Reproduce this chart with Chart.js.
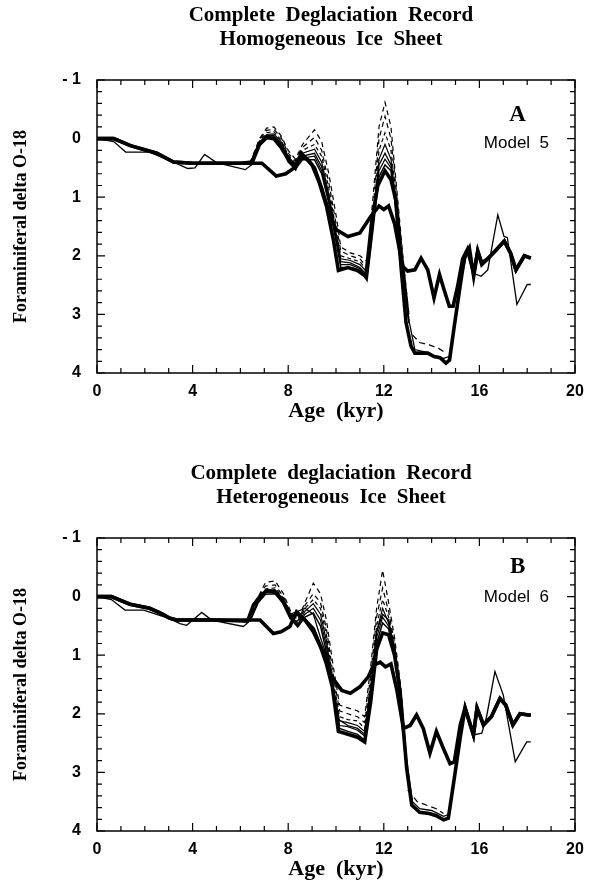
<!DOCTYPE html>
<html>
<head>
<meta charset="utf-8">
<script src="https://cdn.jsdelivr.net/npm/chart.js@4.4.1/dist/chart.umd.min.js"></script>
<style>
  html,body{margin:0;padding:0;background:#fff;}
  #wrap{position:relative;width:602px;height:888px;}
  canvas{position:absolute;left:0;}
  #c1{top:0;} #c2{top:444px;}
</style>
</head>
<body>
<div id="wrap">
  <canvas id="c1" width="602" height="444"></canvas>
  <canvas id="c2" width="602" height="444"></canvas>
</div>
<script>
// axes
const xTicks=[0,4,8,12,16,20];
const yTickVals=[-1,0,1,2,3,4];
const yTickLabels=['- 1','0','1','2','3','4'];

// ---- panel A : homogeneous ice sheet (model 5) ----
const thickA_ageA=[0,0.7,1.4,2.5,3.2,4.0,5.0,6.0,6.5,6.8,7.1,7.4,7.7,8.0,8.3,8.55,9.0,9.3,9.6,9.9,10.1,10.5,10.9,11.25,11.5,11.75,12.05,12.3,12.5,12.72,12.93,13.14,13.3,13.84,14.1,14.35,14.6,14.75,14.95,15.2,15.37,15.58,15.76,15.93,16.1,16.35,16.7,17.04,17.3,17.53,17.88,18.15];
const thickA_valA=[0,0,0.12,0.25,0.4,0.42,0.42,0.42,0.4,0.1,-0.02,0.0,0.15,0.35,0.5,0.25,0.45,0.75,1.15,1.75,2.25,2.2,2.25,2.35,1.4,0.8,0.55,0.7,1.05,2.18,3.14,3.54,3.66,3.66,3.72,3.74,3.83,3.78,3.2,2.5,2.04,1.87,2.35,1.92,2.15,2.05,1.9,1.75,1.95,2.24,2.0,2.04];

const thickB_ageA=[0,0.7,1.4,2.5,3.2,4.0,5.0,6.0,6.9,7.5,7.9,8.25,8.5,8.8,9.1,9.4,9.7,10.0,10.5,11.0,11.45,11.8,12.0,12.2,12.45,12.79,13.0,13.3,13.56,13.84,14.1,14.33,14.5,14.74,14.9,15.09,15.3,15.5,15.76,15.93,16.1,16.35,16.7,17.04,17.3,17.53,17.88,18.15];
const thickB_valA=[0,0,0.12,0.25,0.4,0.42,0.42,0.42,0.42,0.64,0.6,0.5,0.3,0.35,0.5,0.85,1.25,1.55,1.67,1.61,1.33,1.15,1.21,1.15,1.45,2.18,2.26,2.24,2.04,2.24,2.72,2.32,2.55,2.86,2.86,2.52,2.05,1.89,2.3,1.92,2.12,2.05,1.9,1.75,1.95,2.24,2.0,2.04];

const thin_ageA=[0,0.7,1.2,2.2,3.2,3.8,4.1,4.5,5.0,6.2,6.5,6.8,7.1,7.4,7.7,8.0,8.3,8.6,9.1,9.4,9.7,10.0,10.2,10.6,11.0,11.3,11.55,11.8,12.05,12.3,12.55,12.8,13.05,13.3,13.8,14.1,14.5,14.75,15.0,15.25,15.5,15.76,16.07,16.35,16.77,17.03,17.17,17.57,18.0,18.15];
const thin_valA=[0,0.05,0.23,0.23,0.4,0.51,0.5,0.27,0.41,0.53,0.44,0.08,-0.05,-0.05,0.08,0.33,0.48,0.3,0.25,0.48,1.0,1.65,2.1,2.12,2.2,2.33,1.45,0.45,0.25,0.45,1.25,2.2,3.1,3.6,3.65,3.7,3.75,3.72,3.1,2.4,1.9,2.3,2.35,2.24,1.3,1.67,1.69,2.83,2.49,2.49];

const famAgeA=[6.4,6.8,7.1,7.4,7.7,8.0,8.3,8.6,9.1,9.4,9.7,10.0,10.2,10.6,11.0,11.3,11.55,11.8,12.05,12.3,12.55,12.8,13.05];
const famA0=[0.42,0.0,-0.18,-0.2,-0.05,0.2,0.35,0.1,-0.15,0.05,0.6,1.3,1.85,1.95,2.0,2.1,1.0,-0.2,-0.62,-0.2,0.9,2.0,3.0];
const famA1=[0.42,0.02,-0.14,-0.16,-0.02,0.25,0.38,0.15,-0.02,0.2,0.75,1.45,1.92,2.0,2.05,2.2,1.2,0.0,-0.38,0.0,1.0,2.05,3.0];
const famA2=[0.42,0.04,-0.1,-0.12,0.02,0.28,0.42,0.2,0.1,0.3,0.85,1.55,2.0,2.05,2.1,2.25,1.3,0.2,-0.1,0.2,1.1,2.1,3.05];
const famA3=[0.42,0.06,-0.07,-0.08,0.05,0.3,0.45,0.25,0.18,0.4,0.95,1.6,2.05,2.08,2.15,2.28,1.4,0.35,0.1,0.35,1.2,2.15,3.1];
const famA4=[0.42,0.1,-0.03,-0.03,0.1,0.36,0.5,0.33,0.3,0.55,1.05,1.7,2.15,2.15,2.22,2.36,1.5,0.55,0.35,0.5,1.3,2.25,3.15];
const famA5=[0.42,0.12,0.0,0.0,0.12,0.4,0.52,0.36,0.36,0.6,1.1,1.75,2.2,2.2,2.25,2.42,1.55,0.65,0.45,0.55,1.35,2.3,3.15];
const troughAgeA=[13.2,13.5,13.9,14.3,14.6];
const troughValA=[3.35,3.48,3.52,3.58,3.66];

// ---- panel B : heterogeneous ice sheet (model 6) ----
const thickA_ageB=[0,0.6,1.38,2.2,2.7,3.05,3.33,5.0,6.3,6.54,6.82,7.1,7.45,7.8,8.1,8.4,8.7,9.05,9.35,9.6,9.85,10.1,10.5,10.9,11.2,11.45,11.7,11.95,12.2,12.45,12.68,12.96,13.17,13.5,13.9,14.2,14.5,14.7,14.95,15.2,15.4,15.75,15.9,16.17,16.5,16.86,17.1,17.4,17.7,18.05,18.15];
const thickA_valB=[0,0,0.13,0.2,0.29,0.37,0.4,0.4,0.42,0.15,0.0,-0.1,-0.08,0.1,0.35,0.3,0.4,0.6,0.85,1.15,1.55,2.3,2.35,2.4,2.48,1.8,0.9,0.62,0.65,1.0,1.62,2.94,3.56,3.68,3.7,3.74,3.81,3.78,3.1,2.4,1.9,2.36,1.9,2.19,2.05,1.74,1.85,2.19,2.0,2.02,2.02];

const thickB_ageB=[0,0.6,1.38,2.2,2.7,3.05,3.33,5.0,6.82,7.38,7.7,8.07,8.35,8.7,9.05,9.35,9.6,9.82,10.24,10.6,11.0,11.35,11.57,11.85,12.07,12.3,12.55,12.82,13.1,13.37,13.65,13.93,14.2,14.45,14.77,14.95,15.2,15.4,15.75,15.9,16.17,16.5,16.86,17.1,17.4,17.7,18.05,18.15];
const thickB_valB=[0,0,0.13,0.2,0.29,0.37,0.4,0.4,0.4,0.63,0.6,0.51,0.26,0.4,0.55,0.85,1.05,1.37,1.6,1.65,1.54,1.37,1.17,1.12,1.2,1.15,1.6,2.25,2.2,2.02,2.25,2.67,2.3,2.55,2.85,2.82,2.19,1.9,2.36,1.9,2.19,2.05,1.74,1.85,2.19,2.0,2.02,2.02];

const thin_ageB=[0,0.6,1.17,1.95,3.0,3.47,3.75,4.38,4.8,6.12,6.3,6.54,6.82,7.1,7.45,7.8,8.1,8.4,8.7,9.05,9.35,9.6,9.85,10.1,10.5,10.9,11.2,11.45,11.7,11.95,12.2,12.45,12.7,12.96,13.2,13.5,14.0,14.5,14.7,14.95,15.2,15.4,15.75,16.1,16.3,16.65,17.0,17.5,17.98,18.15];
const thin_valB=[0,0.05,0.23,0.23,0.37,0.46,0.49,0.27,0.4,0.51,0.45,0.12,-0.03,-0.12,-0.1,0.1,0.3,0.25,0.2,0.3,0.7,1.0,1.5,2.1,2.2,2.25,2.35,1.6,0.6,0.3,0.4,0.9,1.6,2.8,3.5,3.62,3.65,3.75,3.72,3.1,2.4,1.9,2.36,2.33,2.05,1.28,1.68,2.82,2.48,2.48];

const famAgeB=[6.4,6.75,7.05,7.45,7.8,8.1,8.4,8.7,9.05,9.35,9.6,9.85,10.15,10.5,10.9,11.2,11.45,11.7,11.95,12.2,12.45,12.7,12.96];
const famB0=[0.42,0.0,-0.24,-0.27,-0.05,0.25,0.4,0.1,-0.23,-0.05,0.4,1.1,1.85,1.9,1.95,2.05,1.2,0.2,-0.45,0.1,0.7,1.5,2.8];
const famB1=[0.42,0.02,-0.18,-0.2,0.0,0.28,0.42,0.15,-0.05,0.1,0.55,1.25,1.95,2.0,2.05,2.15,1.35,0.35,-0.15,0.25,0.8,1.55,2.85];
const famB2=[0.42,0.04,-0.13,-0.15,0.03,0.3,0.45,0.2,0.05,0.2,0.65,1.35,2.05,2.1,2.12,2.25,1.45,0.5,0.05,0.35,0.85,1.6,2.9];
const famB3=[0.42,0.06,-0.1,-0.12,0.05,0.32,0.48,0.25,0.12,0.3,0.75,1.45,2.12,2.15,2.2,2.3,1.55,0.6,0.2,0.45,0.9,1.6,2.9];
const famB4=[0.42,0.08,-0.07,-0.08,0.08,0.35,0.5,0.3,0.2,0.4,0.85,1.5,2.2,2.22,2.28,2.38,1.65,0.7,0.35,0.5,0.95,1.62,2.92];
const famB5=[0.42,0.1,-0.04,-0.05,0.1,0.38,0.52,0.35,0.28,0.5,0.95,1.55,2.25,2.3,2.35,2.45,1.7,0.8,0.45,0.55,1.0,1.62,2.92];
const troughAgeB=[13.0,13.4,13.8,14.2,14.5];
const troughValB=[3.3,3.5,3.56,3.62,3.7];

const pts=(ages,vals)=>ages.map((a,i)=>({x:a,y:vals[i]}));
const ds=(ages,vals,w,dash)=>({data:pts(ages,vals),borderColor:'#000',borderWidth:w,borderDash:dash||[],pointRadius:0,tension:0,fill:false});

// titles, frame with inward ticks on all four sides, panel letter
const frameTicks={
  id:'frameTicks',
  afterDatasetsDraw(chart,args,opts){
    const {ctx,chartArea:a,scales:{x,y}}=chart;
    ctx.save();
    ctx.strokeStyle='#000';
    ctx.lineWidth=1.5;
    ctx.strokeRect(a.left,a.top,a.right-a.left,a.bottom-a.top);
    ctx.lineWidth=1.2;
    ctx.beginPath();
    for(let v=0;v<=20;v++){
      const px=x.getPixelForValue(v), len=v%4===0?8:5;
      ctx.moveTo(px,a.bottom);ctx.lineTo(px,a.bottom-len);
      ctx.moveTo(px,a.top);ctx.lineTo(px,a.top+len);
    }
    for(let i=-5;i<=20;i++){
      const py=y.getPixelForValue(i/5), len=i%5===0?8:5;
      ctx.moveTo(a.left,py);ctx.lineTo(a.left+len,py);
      ctx.moveTo(a.right,py);ctx.lineTo(a.right-len,py);
    }
    ctx.stroke();
    ctx.fillStyle='#000';
    ctx.textAlign='center';ctx.textBaseline='middle';
    const cx=(a.left+a.right)/2-5;
    ctx.font='bold 21px "Liberation Serif"';
    opts.title.forEach((t,i)=>ctx.fillText(t,cx,opts.titleY[i]));
    ctx.font='bold 23px "Liberation Serif"';
    ctx.fillText(opts.letter,x.getPixelForValue(17.6),y.getPixelForValue(opts.letterY));
    ctx.font='17px "Liberation Sans"';
    ctx.fillText(opts.model,x.getPixelForValue(17.55),y.getPixelForValue(opts.modelY));
    ctx.restore();
  }
};

function makeChart(id,title,titleY,sets,letter,letterY,model,modelY,padTop,padBottom){
  new Chart(document.getElementById(id),{
    type:'line',
    data:{datasets:sets},
    options:{
      responsive:false,animation:false,
      layout:{padding:{left:0,right:27,top:padTop,bottom:padBottom}},
      plugins:{
        legend:{display:false},tooltip:{enabled:false},title:{display:false},
        frameTicks:{title,titleY,letter,letterY,model,modelY}
      },
      scales:{
        x:{type:'linear',min:0,max:20,
          grid:{display:false,drawTicks:false},border:{display:false},
          afterBuildTicks:s=>{s.ticks=xTicks.map(v=>({value:v}));},
          ticks:{color:'#000',padding:9,font:{family:'"Liberation Sans"',size:16,weight:'bold'}},
          title:{display:true,text:'Age  (kyr)',color:'#000',padding:{top:0,bottom:0},font:{family:'"Liberation Serif"',size:22,weight:'bold'}},
          afterFit:s=>{s.height=52;}},
        y:{type:'linear',min:-1,max:4,reverse:true,
          grid:{display:false,drawTicks:false},border:{display:false},
          afterBuildTicks:s=>{s.ticks=yTickVals.map(v=>({value:v}));},
          ticks:{color:'#000',padding:16,font:{family:'"Liberation Sans"',size:16,weight:'bold'},
            callback:v=>yTickLabels[yTickVals.indexOf(v)]},
          title:{display:true,text:'Foraminiferal delta O-18',color:'#000',padding:{top:11,bottom:0},font:{family:'"Liberation Serif"',size:18,weight:'bold'}},
          afterFit:s=>{s.width=97;}}
      }
    },
    plugins:[frameTicks]
  });
}

makeChart('c1',['Complete  Deglaciation  Record','Homogeneous  Ice  Sheet'],[16,40],[
  ds(famAgeA,famA0,1.2,[5,4]),ds(famAgeA,famA1,1.2,[5,4]),ds(famAgeA,famA2,1.2,[4,3]),
  ds(famAgeA,famA3,1.2),ds(famAgeA,famA4,1.2),ds(famAgeA,famA5,1.5),
  ds(troughAgeA,troughValA,1.2,[6,4]),
  ds(thin_ageA,thin_valA,1.3),
  ds(thickB_ageA,thickB_valA,3.6),
  ds(thickA_ageA,thickA_valA,3.6)
],'A',-0.4,'Model  5',0.08,80,19);

makeChart('c2',['Complete  deglaciation  Record','Heterogeneous  Ice  Sheet'],[30,54],[
  ds(famAgeB,famB0,1.2,[5,4]),ds(famAgeB,famB1,1.2,[5,4]),ds(famAgeB,famB2,1.2,[4,3]),
  ds(famAgeB,famB3,1.2),ds(famAgeB,famB4,1.2),ds(famAgeB,famB5,1.5),
  ds(troughAgeB,troughValB,1.2,[6,4]),
  ds(thin_ageB,thin_valB,1.3),
  ds(thickB_ageB,thickB_valB,3.6),
  ds(thickA_ageB,thickA_valB,3.6)
],'B',-0.5,'Model  6',0.02,94,5);
</script>
</body>
</html>
